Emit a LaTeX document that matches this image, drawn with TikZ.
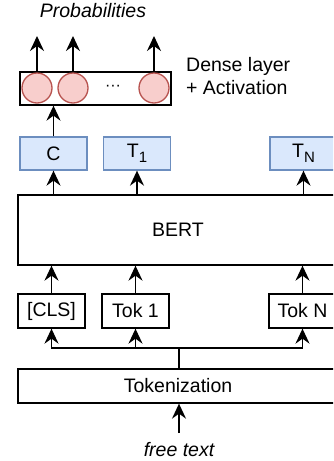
\documentclass[tikz,border=0pt]{standalone}
\usepackage{fontspec}
\setmainfont{Liberation Sans}
\usetikzlibrary{arrows.meta}
\definecolor{bfill}{HTML}{DAE8FC}
\definecolor{bdraw}{HTML}{6C8EBF}
\definecolor{rfill}{HTML}{F8CECC}
\definecolor{rdraw}{HTML}{B85450}
\tikzset{
  box/.style={draw=black, line width=1.3pt, fill=white, minimum width=67pt, minimum height=34pt, inner sep=0pt, font=\fontsize{19.5}{23}\selectfont},
  bluebox/.style={box, draw=bdraw, fill=bfill, minimum height=33pt},
  wide/.style={box, minimum width=320pt},
  neuron/.style={circle, draw=rdraw, fill=rfill, line width=1.3pt, minimum size=30pt, inner sep=0pt},
  arr/.style={line width=1.6pt, -{Stealth[length=15pt, width=14pt, inset=5pt]}},
  ln/.style={line width=1.6pt},
  lbl/.style={font=\fontsize{19.5}{23}\selectfont, inner sep=0pt},
  ital/.style={inner sep=0pt, font=\fontsize{19.5}{23}\selectfont\itshape},
}
\newcommand{\subt}[1]{T\raisebox{-5pt}{\fontsize{15}{15}\selectfont #1}}
\begin{document}
\begin{tikzpicture}[x=1pt,y=-1pt]
\useasboundingbox (0,0) rectangle (333,461);
\clip (0,0) rectangle (333,461);
% top
\node[ital] (prob) at (93,11) {Probabilities};
\node[box, minimum width=151pt, minimum height=33pt] (dense) at (95.5,88.5) {};
\node[neuron] (n1) at (37,88) {};
\node[neuron] (n2) at (73,88) {};
\node[neuron] (n3) at (154,88) {};
\node[inner sep=0pt, font=\fontsize{16}{16}\selectfont] (dots) at (113,88) {···};
\node[lbl, anchor=west, align=left] (dlabel) at (186,76) {Dense layer\\+ Activation};
\coordinate (p1) at (37,36);
\coordinate (p2) at (73,36);
\coordinate (p3) at (154,36);
\draw[arr] (n1.north) -- (p1);
\draw[arr] (n2.north) -- (p2);
\draw[arr] (n3.north) -- (p3);
% outputs
\node[bluebox] (C) at (53.5,153.5) {C};
\node[bluebox] (T1) at (137,153.5) {\subt{1}};
\node[bluebox] (TN) at (303.5,153.5) {\subt{N}};
\draw[arr] (C.north) -- (C.north |- dense.south);
% BERT
\node[wide, minimum height=70pt] (bert) at (178,230) {BERT};
\draw[arr] (bert.north -| C) -- (C.south);
\draw[arr] (bert.north -| T1) -- (T1.south);
\draw[arr] (bert.north -| TN) -- (TN.south);
% tokens
\node[box] (cls) at (51.5,311) {[CLS]};
\node[box] (tok1) at (135.5,311) {Tok 1};
\node[box] (tokn) at (302.5,311) {Tok N};
\draw[arr] (cls.north) -- (cls.north |- bert.south);
\draw[arr] (tok1.north) -- (tok1.north |- bert.south);
\draw[arr] (tokn.north) -- (tokn.north |- bert.south);
% tokenization
\node[wide] (tokz) at (178,386) {Tokenization};
\coordinate (bus) at (179,348);
\draw[ln] (tokz.north -| bus) -- (bus);
\draw[arr] (bus) -| (cls.south);
\draw[arr] (bus) -| (tok1.south);
\draw[arr] (bus) -| (tokn.south);
% input
\node[ital] (free) at (179,450) {free text};
\coordinate (ft) at (179,433);
\draw[arr] (ft) -- (ft |- tokz.south);
\end{tikzpicture}
\end{document}
